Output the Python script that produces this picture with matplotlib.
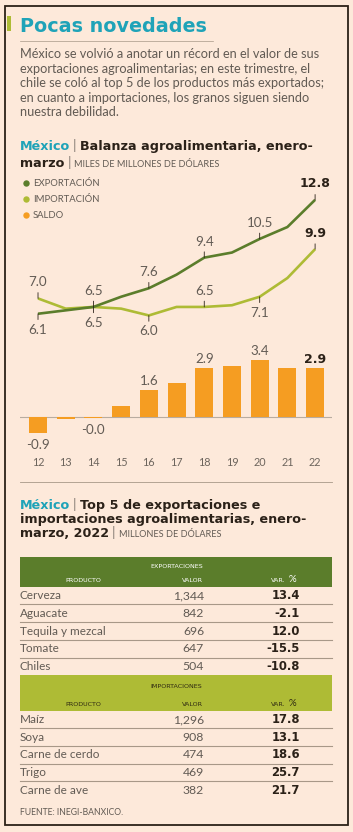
import matplotlib.pyplot as plt
from matplotlib.patches import Rectangle

# datos del chart (miles de millones de dolares, enero-marzo)
years = ['12', '13', '14', '15', '16', '17', '18', '19', '20', '21', '22']
exportacion = [6.1, 6.3, 6.5, 7.1, 7.6, 8.4, 9.4, 9.7, 10.5, 11.2, 12.8]
importacion = [7.0, 6.4, 6.5, 6.4, 6.0, 6.5, 6.5, 6.6, 7.1, 8.2, 9.9]
saldo = [-0.9, -0.1, -0.02, 0.7, 1.6, 2.0, 2.9, 3.0, 3.4, 2.9, 2.9]

# top 5 (millones de dolares)
exp_productos = ['Cerveza', 'Aguacate', 'Tequila y mezcal', 'Tomate', 'Chiles']
exp_valor = ['1,344', '842', '696', '647', '504']
exp_var = [13.4, -2.1, 12.0, -15.5, -10.8]
imp_productos = ['Maíz', 'Soya', 'Carne de cerdo', 'Trigo', 'Carne de ave']
imp_valor = ['1,296', '908', '474', '469', '382']
imp_var = [17.8, 13.1, 18.6, 25.7, 21.7]

# que etiquetas se muestran y donde
exp_lab = {0: 'below', 2: 'above', 4: 'above', 6: 'above', 8: 'above', 10: 'above'}
imp_lab = {0: 'above', 2: 'below', 4: 'below', 6: 'above', 8: 'below', 10: 'above'}
sal_lab = [0, 2, 4, 6, 8, 10]

BG = '#fde9da'
TEAL = '#1fa3b8'
DARK = '#2b2118'
GRAY = '#625b54'
EXP = '#5b7d2b'
IMP = '#aebb35'
SAL = '#f59d22'
RULE = '#a89888'
LIGHT = 'Lato'
BOLD = 'DejaVu Sans'

fig = plt.figure(figsize=(3.53, 8.32), dpi=100, facecolor=BG)

# capa en pixeles para textos y tabla
ax0 = fig.add_axes([0, 0, 1, 1])
ax0.set_xlim(0, 353)
ax0.set_ylim(832, 0)
ax0.axis('off')

ax0.add_patch(Rectangle((5, 6), 342.5, 819, facecolor='none', edgecolor=DARK, lw=1.3))
ax0.add_patch(Rectangle((7, 16), 3.5, 15, facecolor=IMP, edgecolor='none'))

renderer = fig.canvas.get_renderer()


def runs(x, y, parts):
    for text, style in parts:
        t = ax0.text(x, y, text, va='baseline', ha='left', **style)
        x += t.get_window_extent(renderer=renderer).width
    return x


ax0.text(20, 32, 'Pocas novedades', family=BOLD, weight='bold', size=13.8, color=TEAL)
ax0.plot([20, 213], [40.7, 40.7], color=RULE, lw=0.5)

parrafo = ['México se volvió a anotar un récord en el valor de sus',
           'exportaciones agroalimentarias; en este trimestre, el',
           'chile se coló al top 5 de los productos más exportados;',
           'en cuanto a importaciones, los granos siguen siendo',
           'nuestra debilidad.']
for i, linea in enumerate(parrafo):
    ax0.text(20, 58.3 + i * 14.5, linea, family=LIGHT, size=9.2, color=GRAY, va='baseline')

teal_b = dict(family=BOLD, weight='bold', size=9.2, color=TEAL)
dark_b = dict(family=BOLD, weight='bold', size=9.2, color=DARK)
bar_s = dict(family=LIGHT, size=10, color='#8a8078')
caps = dict(family=LIGHT, size=6.6, color=GRAY)

x = runs(20, 150, [('México', teal_b)])
x = runs(x + 3, 150, [('|', bar_s)])
runs(x + 3, 150, [('Balanza agroalimentaria, enero-', dark_b)])
x = runs(20, 166.7, [('marzo', dark_b)])
x = runs(x + 3, 166.7, [('|', bar_s)])
runs(x + 3, 166.7, [('MILES DE MILLONES DE DÓLARES', caps)])

# leyenda
for i, (nombre, col) in enumerate([('EXPORTACIÓN', EXP), ('IMPORTACIÓN', IMP), ('SALDO', SAL)]):
    yy = 183.3 + i * 15.8
    ax0.plot([26], [yy], marker='o', ms=4.6, color=col, mec='none')
    ax0.text(33, yy + 3, nombre, family=LIGHT, size=6.8, color=GRAY, va='baseline')

# chart principal
ax = fig.add_axes([20 / 353, 1 - 470 / 832, 312 / 353, 295 / 832])
ax.set_xlim(11.35, 22.61)
ax.set_ylim(-3.09, 14.26)
ax.axis('off')
ax.patch.set_alpha(0)

xs = [int(y) for y in years]
ax.axhline(0, color='#b8aca0', lw=0.8, zorder=1)
ax.bar(xs, saldo, width=0.65, color=SAL, zorder=2)
ax.plot(xs, importacion, color=IMP, lw=1.9, zorder=3, solid_capstyle='butt')
ax.plot(xs, exportacion, color=EXP, lw=1.9, zorder=4, solid_capstyle='butt')


def etiqueta(i, val, lado, off=11.5):
    last = i == len(xs) - 1
    dy = off if lado == 'above' else -off
    ax.annotate(f'{val:.1f}', (xs[i], val), xytext=(0, dy), textcoords='offset points',
                ha='center', va='center', size=9 if last else 9.6,
                family=BOLD if last else LIGHT, weight='bold' if last else 'normal',
                color=DARK if last else GRAY, zorder=5,
                arrowprops=dict(arrowstyle='-', color=DARK, lw=0.6, shrinkA=1, shrinkB=0))


for i, lado in exp_lab.items():
    etiqueta(i, exportacion[i], lado)
for i, lado in imp_lab.items():
    etiqueta(i, importacion[i], lado)

for i in sal_lab:
    v = saldo[i]
    last = i == len(xs) - 1
    dy = 6.5 if v > 0 else -9
    ax.annotate(f'{v:.1f}', (xs[i], v if v > 0 else min(v, 0)), xytext=(0, dy),
                textcoords='offset points', ha='center', va='center',
                size=9 if last else 9.6, family=BOLD if last else LIGHT,
                weight='bold' if last else 'normal', color=DARK if last else GRAY)

for xv, lab in zip(xs, years):
    ax.text(xv, -2.65, lab, ha='center', va='center', family=LIGHT, size=7.8, color='#6d655d')

ax0.plot([20, 332], [481.7, 481.7], color=RULE, lw=0.6)

# segundo titulo
x = runs(20, 509, [('México', teal_b)])
x = runs(x + 3, 509, [('|', bar_s)])
runs(x + 3, 509, [('Top 5 de exportaciones e', dark_b)])
runs(20, 523.3, [('importaciones agroalimentarias, enero-', dark_b)])
x = runs(20, 537.3, [('marzo, 2022', dark_b)])
x = runs(x + 3, 537.3, [('|', bar_s)])
runs(x + 3, 537.3, [('MILLONES DE DÓLARES', caps)])


def encabezado(top, alto, titulo, fondo, tcol, y1, y2):
    ax0.add_patch(Rectangle((20, top), 312, alto, facecolor=fondo, edgecolor='none'))
    st = dict(family=BOLD, size=4.6, color=tcol, va='baseline')
    ax0.text(176.7, y1, titulo, ha='center', **st)
    ax0.text(83, y2, 'PRODUCTO', ha='center', **st)
    ax0.text(192, y2, 'VALOR', ha='center', **st)
    ax0.text(278, y2, 'VAR.', ha='center', **st)
    ax0.text(289, y2, '%', ha='left', family=LIGHT, size=7, color=tcol, va='baseline')


def filas(y0, paso, productos, valores, variaciones):
    for i, (p, v, c) in enumerate(zip(productos, valores, variaciones)):
        yb = y0 + i * paso
        ax0.text(20, yb, p, family=LIGHT, size=8.5, color=GRAY, va='baseline')
        ax0.text(204, yb, v, ha='right', family=LIGHT, size=8.8, color=GRAY, va='baseline')
        ax0.text(300, yb, f'{c:.1f}', ha='right', family=BOLD, weight='bold', size=8.4, color=DARK, va='baseline')
        if i < len(productos) - 1:
            yl = yb + paso / 2 - 3.5
            ax0.plot([20, 332], [yl, yl], color=RULE, lw=0.8)


encabezado(556.7, 30, 'EXPORTACIONES', EXP, 'white', 568.5, 582)
filas(599, 17.8, exp_productos, exp_valor, exp_var)
encabezado(675, 36, 'IMPORTACIONES', IMP, '#2f2a12', 687.5, 706)
filas(723, 17.7, imp_productos, imp_valor, imp_var)

ax0.text(20, 815, 'FUENTE: INEGI-BANXICO.', family=LIGHT, size=6.2, color=GRAY, va='baseline')

plt.savefig('out.png', dpi=100, facecolor=BG)
plt.close()
